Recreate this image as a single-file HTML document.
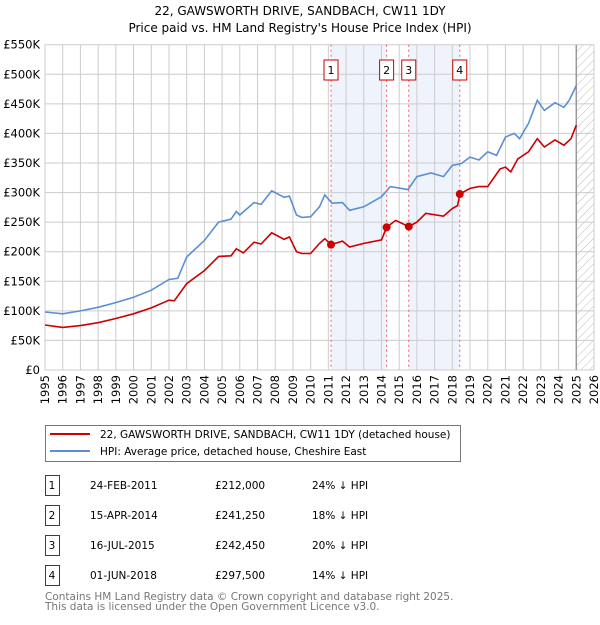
<!DOCTYPE html>
<html><head><meta charset="utf-8"><style>
body{margin:0;background:#fff;font-family:"Liberation Sans","DejaVu Sans",sans-serif}
svg text{font-family:"DejaVu Sans","Liberation Sans",sans-serif}
</style></head><body>
<svg id="c" width="600" height="620" viewBox="0 0 600 620" xmlns="http://www.w3.org/2000/svg">
<defs><pattern id="hatch" width="6" height="6" patternUnits="userSpaceOnUse" patternTransform="rotate(45)"><line x1="0" y1="0" x2="0" y2="6" stroke="#bbb" stroke-width="1"/></pattern></defs>
<text x="300" y="15" text-anchor="middle" font-size="12">22, GAWSWORTH DRIVE, SANDBACH, CW11 1DY</text>
<text x="300" y="32" text-anchor="middle" font-size="12">Price paid vs. HM Land Registry's House Price Index (HPI)</text>
<g id="shade"></g><g id="grid"></g><g id="axes"></g><g id="lines"></g><g id="marks"></g>
<g>
<rect x="45.5" y="425.5" width="415" height="36" fill="#fff" stroke="#777"/>
<line x1="50" y1="434" x2="90" y2="434" stroke="#cc0000" stroke-width="2"/>
<text x="100" y="438" font-size="10.5">22, GAWSWORTH DRIVE, SANDBACH, CW11 1DY (detached house)</text>
<line x1="50" y1="451" x2="90" y2="451" stroke="#5b8fd4" stroke-width="2"/>
<text x="100" y="455" font-size="10.5">HPI: Average price, detached house, Cheshire East</text>
</g>
<g id="table" font-size="10.5"></g>
<text x="45" y="600" font-size="10.5" fill="#777">Contains HM Land Registry data © Crown copyright and database right 2025.</text>
<text x="45" y="610" font-size="10.5" fill="#777">This data is licensed under the Open Government Licence v3.0.</text>
</svg>
<script>
const hpiYears=[1995,1996,1997,1998,1999,2000,2001,2002,2002.5,2003,2004,2004.8,2005.5,2005.8,2006,2006.8,2007.2,2007.8,2008.5,2008.8,2009.2,2009.5,2010,2010.5,2010.8,2011.2,2011.8,2012.2,2013,2014,2014.5,2015.5,2016,2016.8,2017.5,2018,2018.5,2019,2019.5,2020,2020.5,2021,2021.5,2021.8,2022.3,2022.8,2023.2,2023.8,2024.3,2024.6,2025];
const hpiValues=[98,95,100,106,114,123,135,153,155,191,219,250,255,268,262,283,280,303,292,294,262,258,259,276,296,282,283,270,276,293,310,305,327,333,327,346,349,360,355,369,363,394,400,391,417,456,439,452,444,456,481];
const ppYears=[1995,1996,1997,1998,1999,2000,2001,2002,2002.3,2003,2004,2004.8,2005.5,2005.8,2006.2,2006.8,2007.2,2007.8,2008.5,2008.8,2009.2,2009.5,2010,2010.5,2010.8,2011.15,2011.8,2012.2,2013,2014,2014.29,2014.8,2015.54,2016,2016.5,2017.5,2018,2018.3,2018.42,2019,2019.5,2020,2020.7,2021,2021.3,2021.7,2022.3,2022.8,2023.2,2023.8,2024.3,2024.7,2025];
const ppValues=[76,72,75,80,87,95,105,118,117,146,168,192,193,205,198,216,213,232,221,225,200,197,197,214,222,212,218,208,214,220,241.25,253,242.45,250,265,260,273,278,297.5,307,310,310,340,343,335,357,369,391,377,389,380,391,414];
const saleLabels=["1","2","3","4"];
const saleYears=[2011.15,2014.29,2015.54,2018.42];
const saleValues=[212,241.25,242.45,297.5];
const saleDates=["24-FEB-2011","15-APR-2014","16-JUL-2015","01-JUN-2018"];
const salePrices=["£212,000","£241,250","£242,450","£297,500"];
const saleDiffs=["24% ↓ HPI","18% ↓ HPI","20% ↓ HPI","14% ↓ HPI"];
const yTicks=[0,50,100,150,200,250,300,350,400,450,500,550];
const yTickLabels=["£0","£50K","£100K","£150K","£200K","£250K","£300K","£350K","£400K","£450K","£500K","£550K"];
const xTicks=[1995,1996,1997,1998,1999,2000,2001,2002,2003,2004,2005,2006,2007,2008,2009,2010,2011,2012,2013,2014,2015,2016,2017,2018,2019,2020,2021,2022,2023,2024,2025,2026];
const X0=45,X1=594,Y0=370,Y1=44.7;
const xs=y=>X0+(y-1995)/(2026-1995)*(X1-X0);
const ys=v=>Y0-v/550*(Y0-Y1);
const NS="http://www.w3.org/2000/svg";
function mk(p,t,a){const e=document.createElementNS(NS,t);for(const k in a)e.setAttribute(k,a[k]);document.getElementById(p).appendChild(e);return e;}
// shading
for(const [a,b] of [[0,1],[2,3]]){const r=mk('shade','rect',{x:xs(saleYears[a]),y:Y1,width:xs(saleYears[b])-xs(saleYears[a]),height:Y0-Y1,fill:'#eef3fc'});

}
const h=mk('shade','rect',{x:xs(2025),y:Y1,width:X1-xs(2025),height:Y0-Y1,fill:'url(#hatch)'});


for(const t of yTicks){const l=mk('grid','line',{x1:X0,x2:X1,y1:ys(t),y2:ys(t),stroke:'#ccc'});

}
yTicks.forEach((t,i)=>{const e=mk('axes','text',{x:40,y:ys(t)+4,'text-anchor':'end','font-size':'11.5'});e.textContent=yTickLabels[i];

});
for(const t of xTicks){const l=mk('grid','line',{x1:xs(t),x2:xs(t),y1:Y1,y2:Y0,stroke:'#ccc'});


const e=mk('axes','text',{transform:`translate(${xs(t)+4},${Y0+5}) rotate(-90)`,'text-anchor':'end','font-size':'11.5'});e.textContent=t;

}
const v=mk('grid','line',{x1:xs(2025),x2:xs(2025),y1:Y1,y2:Y0,stroke:'#999','stroke-width':1.5});


function path(xsArr,vals,col,name){const d=xsArr.map((y,i)=>(i?'L':'M')+xs(y).toFixed(1)+','+ys(vals[i]).toFixed(1)).join('');
const p=mk('lines','path',{d:d,fill:'none',stroke:col,'stroke-width':1.6});

}
path(hpiYears,hpiValues,'#5b8fd4','hpi-line');
path(ppYears,ppValues,'#cc0000','price-paid-line');
saleYears.forEach((y,i)=>{const x=xs(y);
const l=mk('marks','line',{x1:x,x2:x,y1:Y1,y2:Y0,stroke:'#f06060','stroke-dasharray':'2,3'});


const c=mk('marks','circle',{cx:x,cy:ys(saleValues[i]),r:4,fill:'#cc0000'});


const b=mk('marks','rect',{x:x-7,y:60,width:14,height:20,fill:'#fff',stroke:'#cc0000'});


const t=mk('marks','text',{x:x,y:74,'text-anchor':'middle','font-size':'11'});t.textContent=saleLabels[i];


const ry=475+i*30;
const tb=mk('table','rect',{x:45.5,y:ry+0.5,width:14,height:20,fill:'#fff',stroke:'#cc0000'});


const cells=[[52,saleLabels[i],'middle'],[90,saleDates[i],'start'],[215,salePrices[i],'start'],[312,saleDiffs[i],'start']];
for(const [cx,txt,an] of cells){const e=mk('table','text',{x:cx,y:ry+14,'text-anchor':an});e.textContent=txt;

}
});
</script>
</body></html>
